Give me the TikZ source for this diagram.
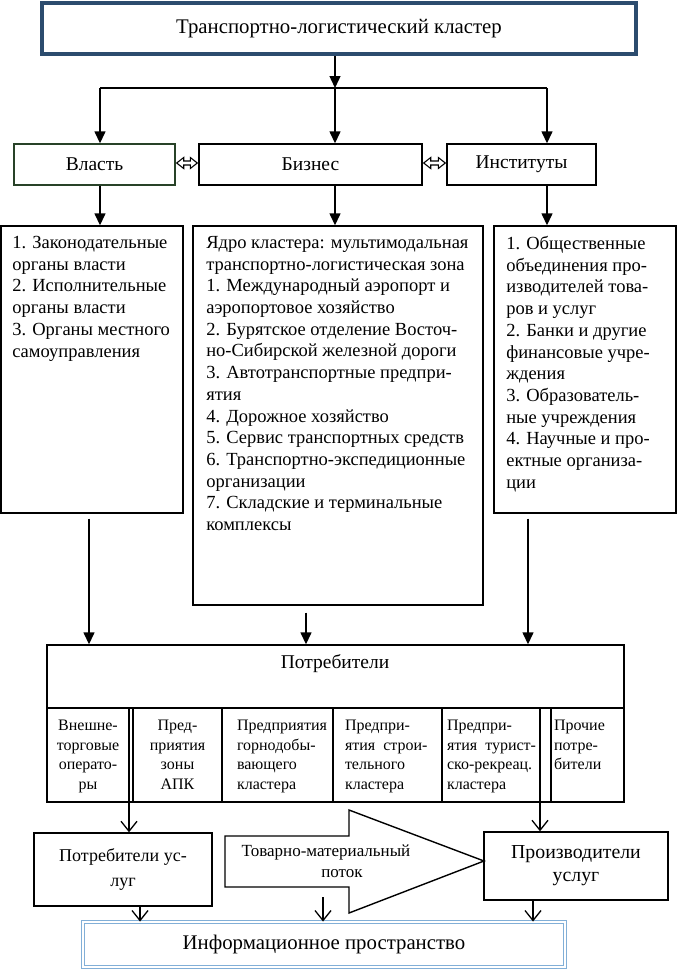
\documentclass[tikz,border=0pt]{standalone}
\usepackage{fontspec}
\setmainfont{Liberation Serif}
\usetikzlibrary{arrows.meta}
\definecolor{topblue}{RGB}{44,76,110}
\definecolor{vlgreen}{RGB}{40,66,40}
\definecolor{infoblue}{RGB}{130,175,215}
\newcommand{\fTitle}{\fontsize{20.8}{24}\selectfont}
\newcommand{\fHead}{\fontsize{19.5}{23}\selectfont}
\newcommand{\fList}{\fontsize{18.5}{21.7}\selectfont}
\newcommand{\fCell}{\fontsize{16}{19.6}\selectfont}
\newcommand{\fBot}{\fontsize{18}{25}\selectfont}
\newcommand{\fBotB}{\fontsize{19.8}{23}\selectfont}
\newcommand{\fFlow}{\fontsize{17}{21}\selectfont}
\newcommand{\fInfo}{\fontsize{20.8}{24}\selectfont}
\begin{document}
\begin{tikzpicture}[x=1pt,y=-1pt,
  box/.style={draw, line width=1.4pt, inner sep=0pt},
  txt/.style={inner sep=0pt, outer sep=0pt},
  farrow/.style={line width=1.4pt, -{Triangle[length=12pt,width=11pt]}},
  varrow/.style={line width=1.3pt, -{Straight Barb[length=10pt,width=16pt,line width=1.3pt]}},
  hollow/.style={line width=1.1pt, line join=miter},
  seg/.style={line width=1.4pt}
  ]
\fill[white] (0,0) rectangle (677,970);
\useasboundingbox (0,0) rectangle (677,970);

% top
\node[box, line width=4pt, draw=topblue, minimum width=594pt, minimum height=51pt, font=\fTitle] (top) at (339,28.5) {Транспортно-логистический кластер};

% level 2
\node[box, draw=vlgreen, minimum width=161pt, minimum height=41pt, font=\fHead] (vl) at (94.5,164.5) {Власть};
\node[box, minimum width=223pt, minimum height=41pt, font=\fHead] (biz) at (310.5,164.5) {Бизнес};
\node[box, minimum width=149pt, minimum height=41pt, font=\fHead] (inst) at (521.5,164.5) {Институты};

\coordinate (j) at (335,88);
\coordinate (ja) at (100,88);
\coordinate (jc) at (547,88);
\draw[farrow] (top.south -| j) -- (j);
\draw[seg] (ja) -- (jc);
\draw[farrow] (ja) -- (vl.north -| ja);
\draw[farrow] (j) -- (biz.north -| j);
\draw[farrow] (jc) -- (inst.north -| jc);

% hollow double arrows
\draw[hollow] ([shift={(1,-1.5)}]vl.east) -- ([shift={(8,-7)}]vl.east) -- ([shift={(8,-3.5)}]vl.east)
  -- ([shift={(-8,-3.5)}]biz.west) -- ([shift={(-8,-7)}]biz.west) -- ([shift={(-1,-1.5)}]biz.west)
  -- ([shift={(-8,4)}]biz.west) -- ([shift={(-8,0.5)}]biz.west) -- ([shift={(8,0.5)}]vl.east)
  -- ([shift={(8,4)}]vl.east) -- cycle;
\draw[hollow] ([shift={(1,-1.5)}]biz.east) -- ([shift={(8,-7)}]biz.east) -- ([shift={(8,-3.5)}]biz.east)
  -- ([shift={(-8,-3.5)}]inst.west) -- ([shift={(-8,-7)}]inst.west) -- ([shift={(-1,-1.5)}]inst.west)
  -- ([shift={(-8,4)}]inst.west) -- ([shift={(-8,0.5)}]inst.west) -- ([shift={(8,0.5)}]biz.east)
  -- ([shift={(8,4)}]biz.east) -- cycle;

% list boxes
\node[box, minimum width=182pt, minimum height=287pt] (l1) at (92,369.5) {};
\node[box, minimum width=290pt, minimum height=379pt] (l2) at (338,415.5) {};
\node[box, minimum width=182pt, minimum height=287pt] (l3) at (585,369.5) {};

\draw[farrow] (vl.south -| ja) -- (l1.north -| ja);
\draw[farrow] (biz.south -| j) -- (l2.north -| j);
\draw[farrow] (inst.south -| jc) -- (l3.north -| jc);

\node[txt, anchor=north west, align=left, font=\fList] (t1) at ([shift={(12,11)}]l1.north west) {%
1. Законодательные\\
органы власти\\
2. Исполнительные\\
органы власти\\
3. Органы местного\\
самоуправления};

\node[txt, anchor=north west, align=left, font=\fList] (t2) at ([shift={(14,11)}]l2.north west) {%
Ядро кластера: мультимодальная\\
транспортно-логистическая зона\\
1. Международный аэропорт и\\
аэропортовое хозяйство\\
2. Бурятское отделение Восточ-\\
но-Сибирской железной дороги\\
3. Автотранспортные предпри-\\
ятия\\
4. Дорожное хозяйство\\
5. Сервис транспортных средств\\
6. Транспортно-экспедиционные\\
организации\\
7. Складские и терминальные\\
комплексы};

\node[txt, anchor=north west, align=left, font=\fList] (t3) at ([shift={(13,11)}]l3.north west) {%
1. Общественные\\
объединения про-\\
изводителей това-\\
ров и услуг\\
2. Банки и другие\\
финансовые учре-\\
ждения\\
3. Образователь-\\
ные учреждения\\
4. Научные и про-\\
ектные организа-\\
ции};

% consumers
\node[box, minimum width=577pt, minimum height=157pt] (potr) at (335.5,723.5) {};
\coordinate (hl) at (0,708);
\draw[seg] (potr.west |- hl) -- (potr.east |- hl);
\node[txt, font=\fHead] (ptitle) at (335,664) {Потребители};

\coordinate (a1) at (89,0);
\coordinate (a2) at (306,0);
\coordinate (a3) at (528,0);
\draw[farrow, shorten <=5pt] (l1.south -| a1) -- (potr.north -| a1);
\draw[farrow, shorten <=7pt] (l2.south -| a2) -- (potr.north -| a2);
\draw[farrow, shorten <=5pt] (l3.south -| a3) -- (potr.north -| a3);

\foreach \x in {133,222,333,442,551} \draw[seg] (\x,708) -- (\x,802);

\node[txt, anchor=north, align=center, font=\fCell] (c1) at (88,720) {Внешне-\\торговые\\операто-\\ры};
\node[txt, anchor=north, align=center, font=\fCell] (c2) at (177.5,720) {Пред-\\приятия\\зоны\\АПК};
\node[txt, anchor=north west, align=left, font=\fCell] (c3) at (237,720) {Предприятия\\горнодобы-\\вающего\\кластера};
\node[txt, anchor=north west, align=left, font=\fCell] (c4) at (345,720) {Предпри-\\ятия\ \ строи-\\тельного\\кластера};
\node[txt, anchor=north west, align=left, font=\fCell] (c5) at (447,720) {Предпри-\\ятия\ \ турист-\\ско-рекреац.\\кластера};
\node[txt, anchor=north west, align=left, font=\fCell] (c6) at (554,720) {Прочие\\потре-\\бители};

% bottom
\node[box, minimum width=178pt, minimum height=73pt, align=center, font=\fBot] (pu) at (123,869.5) {Потребители ус-\\луг};
\node[box, minimum width=184pt, minimum height=68pt, align=center, font=\fBotB] (pr) at (576,866) {Производители\\услуг};

\coordinate (d1) at (129,708);
\coordinate (d2) at (540,708);
\draw[varrow] (d1) -- (pu.north -| d1);
\draw[varrow] (d2) -- (pr.north -| d2);

\draw[seg, line join=miter] (225,836) -- (349,836) -- (349,810) -- (484,861) -- (349,913) -- (349,887) -- (225,887) -- cycle;
\node[txt, align=center, font=\fFlow] (flow) at (326,861) {Товарно-материальный\\\hspace*{32pt}поток};

\node[draw=infoblue, double=white, double distance=1.6pt, line width=0.9pt, inner sep=0pt, minimum width=482pt, minimum height=45pt, font=\fInfo] (info) at (324,944.5) {Информационное пространство};

\coordinate (b1) at (140,0);
\coordinate (b2) at (323,897);
\coordinate (b3) at (533,0);
\draw[varrow] (pu.south -| b1) -- (info.north -| b1);
\draw[varrow] (b2) -- (info.north -| b2);
\draw[varrow] (pr.south -| b3) -- (info.north -| b3);
\end{tikzpicture}
\end{document}
